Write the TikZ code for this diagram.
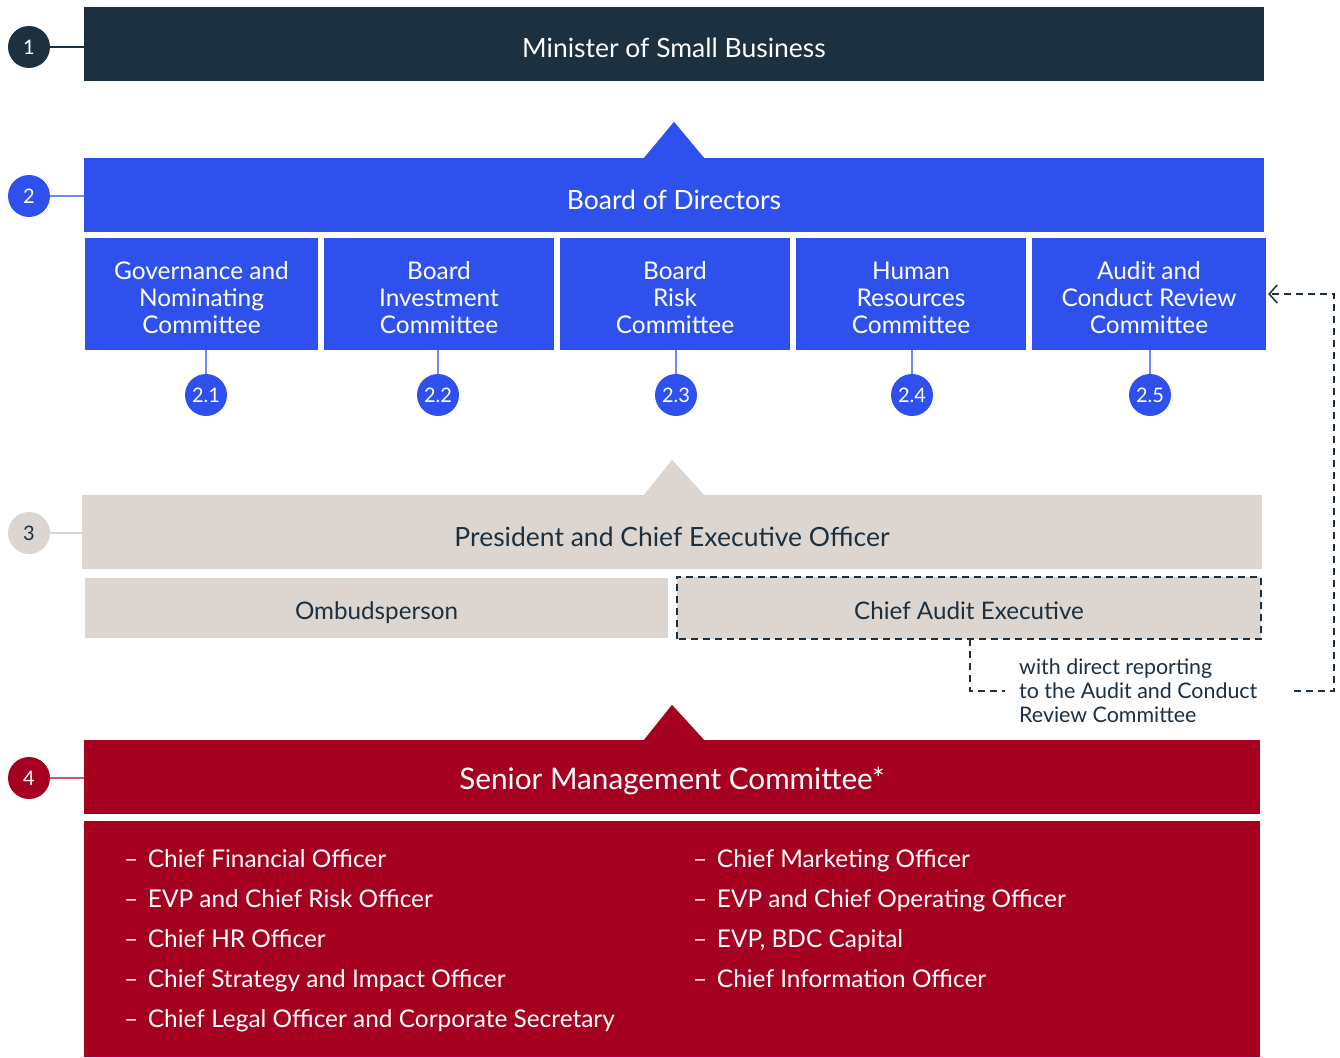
\documentclass[tikz,border=0pt]{standalone}
\usepackage{fontspec}
\setmainfont{Lato}
\usetikzlibrary{arrows.meta}
\definecolor{navy}{HTML}{1C3040}
\definecolor{board}{HTML}{2E51EE}
\definecolor{boardline}{HTML}{7189F2}
\definecolor{beige}{HTML}{DDD5CF}
\definecolor{crimson}{HTML}{A60021}
\definecolor{crimsonline}{HTML}{C9586C}
\newcommand{\fs}[1]{\fontsize{#1}{#1}\selectfont}
\tikzset{
  box/.style = {inner sep=0pt, align=center, minimum height=74},
  title/.style = {box, text height=28, text depth=0, font=\fs{26.5}},
  subbox/.style = {box, fill=beige, text=navy, text height=22, text depth=0, font=\fs{24.2}},
  cttee/.style = {box, fill=board, minimum height=112},
  ctteetext/.style = {inner sep=0pt, align=center, text=white, font=\fontsize{24.4}{27}\selectfont, yshift=-4},
  num/.style = {circle, minimum size=42, inner sep=0pt, font=\fs{20}},
  subnum/.style = {num, fill=board, text=white},
  dashline/.style = {navy, line width=1.5, dash pattern=on 7 off 5},
  item/.style = {anchor=base west, inner sep=0pt, text=white, font=\fs{24.4}}
}

\begin{document}
\begin{tikzpicture}[x=1pt,y=-1pt]
  \useasboundingbox (0,0) rectangle (1340,1057);
  % level 1
  \node[title, fill=navy, text=white, minimum width=1180] (minister) at (674,44) {Minister of Small Business};
  \node[num, fill=navy, text=white] (n1) at (29,47) {1};
  \draw[navy, line width=1.5] (n1) -- (n1 -| minister.west);
  % level 2
  \node[title, fill=board, text=white, minimum width=1180] (board) at (674,195) {Board of Directors};
  \fill[board] ([xshift=-30pt]board.north) -- ([yshift=36pt]board.north) -- ([xshift=30pt]board.north) -- cycle;
  \node[num, fill=board, text=white] (n2) at (29,196) {2};
  \draw[boardline, line width=1.5] (n2) -- (n2 -| board.west);
  % committees
  \node[cttee, minimum width=233, label={[ctteetext]center:{Governance and\\Nominating\\Committee}}] (gnc) at (201.5,294) {};
  \node[cttee, minimum width=230, label={[ctteetext]center:{Board\\Investment\\Committee}}] (bic) at (439,294) {};
  \node[cttee, minimum width=230, label={[ctteetext]center:{Board\\Risk\\Committee}}] (brc) at (675,294) {};
  \node[cttee, minimum width=230, label={[ctteetext]center:{Human\\Resources\\Committee}}] (hrc) at (911,294) {};
  \node[cttee, minimum width=234, label={[ctteetext]center:{Audit and\\Conduct Review\\Committee}}] (acrc) at (1149,294) {};
  \node[subnum] (c21) at (206,395) {2.1};
  \node[subnum] (c22) at (438,395) {2.2};
  \node[subnum] (c23) at (676,395) {2.3};
  \node[subnum] (c24) at (912,395) {2.4};
  \node[subnum] (c25) at (1150,395) {2.5};
  \draw[boardline, line width=1.5] (c21 |- gnc.south) -- (c21);
  \draw[boardline, line width=1.5] (c22 |- bic.south) -- (c22);
  \draw[boardline, line width=1.5] (c23 |- brc.south) -- (c23);
  \draw[boardline, line width=1.5] (c24 |- hrc.south) -- (c24);
  \draw[boardline, line width=1.5] (c25 |- acrc.south) -- (c25);
  % level 3
  \node[title, fill=beige, text=navy, minimum width=1180] (ceo) at (672,532) {President and Chief Executive Officer};
  \fill[beige] ([xshift=-28pt]ceo.north) -- ([yshift=35pt]ceo.north) -- ([xshift=32pt]ceo.north) -- cycle;
  \node[num, fill=beige, text=navy] (n3) at (29,533) {3};
  \draw[beige, line width=1.5] (n3) -- (n3 -| ceo.west);
  \node[subbox, minimum width=583, minimum height=60] (ombud) at (376.5,608) {Ombudsperson};
  \node[subbox, minimum width=584, minimum height=62] (cae) at (969,608) {Chief Audit Executive};
  \draw[dashline] (cae.south west) rectangle (cae.north east);
  % reporting line to the audit committee
  \coordinate (caeknee) at (970,691);
  \coordinate (noteend) at (1005,691);
  \coordinate (loopstart) at (1294,691);
  \coordinate (loopcorner) at (1334,691);
  \draw[dashline] (cae.south -| caeknee) -- (caeknee) -- (noteend);
  \node[anchor=north west, inner sep=0pt, align=left, text=navy, font=\fontsize{21.4}{24}\selectfont] (note) at (1019,659) {with direct reporting\\to the Audit and Conduct\\Review Committee};
  \draw[dashline, -{Straight Barb[length=8,width=18]}, shorten >=2] (loopstart) -- (loopcorner) |- (acrc.east);
  % level 4
  \node[box, fill=crimson, text=white, minimum width=1176, text height=24, text depth=0, font=\fs{29.7}] (smc) at (672,777) {Senior Management Committee*};
  \fill[crimson] ([xshift=-28pt]smc.north) -- ([yshift=35pt]smc.north) -- ([xshift=32pt]smc.north) -- cycle;
  \node[num, fill=crimson, text=white] (n4) at (29,778) {4};
  \draw[crimsonline, line width=1.5] (n4) -- (n4 -| smc.west);
  \node[box, fill=crimson, minimum width=1176, minimum height=236] (members) at (672,939) {};
  % members
  \node[item] (cfo) at (124,867) {–\hspace{9.6pt}Chief Financial Officer};
  \node[item] (cro) at (124,907) {–\hspace{9.6pt}EVP and Chief Risk Officer};
  \node[item] (chro) at (124,947) {–\hspace{9.6pt}Chief HR Officer};
  \node[item] (csio) at (124,987) {–\hspace{9.6pt}Chief Strategy and Impact Officer};
  \node[item] (clo) at (124,1027) {–\hspace{9.6pt}Chief Legal Officer and Corporate Secretary};
  \node[item] (cmo) at (693,867) {–\hspace{9.6pt}Chief Marketing Officer};
  \node[item] (coo) at (693,907) {–\hspace{9.6pt}EVP and Chief Operating Officer};
  \node[item] (bdcc) at (693,947) {–\hspace{9.6pt}EVP, BDC Capital};
  \node[item] (cio) at (693,987) {–\hspace{9.6pt}Chief Information Officer};
\end{tikzpicture}
\end{document}
